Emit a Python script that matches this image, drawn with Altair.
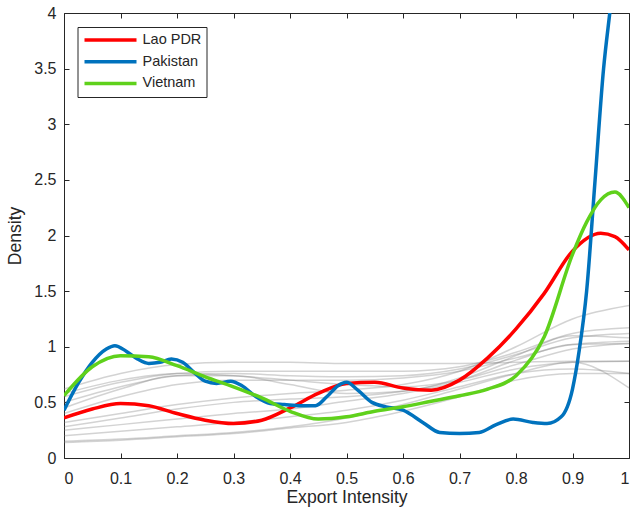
import altair as alt
import pandas as pd

# ---- data ----
grid_x = [0, 0.1, 0.2, 0.3, 0.4, 0.5, 0.6, 0.7, 0.8, 0.9, 1.0]
gray_series = {
    "g1":  [0.62, 0.76, 0.84, 0.86, 0.86, 0.85, 0.85, 0.85, 0.86, 0.87, 0.87],
    "g2":  [0.55, 0.68, 0.76, 0.78, 0.78, 0.78, 0.78, 0.82, 0.95, 1.12, 1.17],
    "g3":  [0.50, 0.64, 0.74, 0.76, 0.74, 0.73, 0.74, 0.80, 0.93, 1.08, 1.12],
    "g4":  [0.45, 0.62, 0.74, 0.74, 0.66, 0.58, 0.60, 0.72, 0.92, 1.10, 1.08],
    "g5":  [0.40, 0.55, 0.66, 0.70, 0.70, 0.70, 0.72, 0.78, 0.90, 1.02, 1.05],
    "g6":  [0.32, 0.40, 0.48, 0.54, 0.58, 0.61, 0.66, 0.78, 1.00, 1.25, 1.37],
    "g7":  [0.28, 0.36, 0.44, 0.50, 0.53, 0.55, 0.60, 0.70, 0.88, 1.02, 1.03],
    "g8":  [0.25, 0.30, 0.35, 0.40, 0.44, 0.51, 0.58, 0.68, 0.80, 0.86, 0.87],
    "g9":  [0.20, 0.24, 0.28, 0.32, 0.37, 0.43, 0.52, 0.64, 0.76, 0.80, 0.76],
    "g10": [0.15, 0.17, 0.20, 0.23, 0.28, 0.36, 0.48, 0.62, 0.76, 0.86, 0.63],
    "g11": [0.14, 0.16, 0.19, 0.22, 0.27, 0.32, 0.42, 0.55, 0.70, 0.76, 0.76],
    "g12": [0.58, 0.70, 0.76, 0.74, 0.70, 0.66, 0.64, 0.70, 0.84, 0.98, 1.03],
}

lao_x = [0, 0.05, 0.1, 0.15, 0.2, 0.25, 0.3, 0.35, 0.4, 0.45, 0.5, 0.55, 0.6,
         0.65, 0.7, 0.75, 0.8, 0.85, 0.9, 0.95, 0.975, 1.0]
lao_y = [0.36, 0.44, 0.49, 0.47, 0.40, 0.34, 0.31, 0.34, 0.45, 0.58, 0.67, 0.68,
         0.63, 0.61, 0.70, 0.90, 1.16, 1.48, 1.86, 2.02, 1.99, 1.87]

vnm_x = [0, 0.05, 0.1, 0.15, 0.2, 0.25, 0.3, 0.35, 0.4, 0.45, 0.5, 0.55, 0.6,
         0.65, 0.7, 0.75, 0.8, 0.85, 0.9, 0.925, 0.95, 0.975, 1.0]
vnm_y = [0.56, 0.82, 0.92, 0.91, 0.83, 0.73, 0.64, 0.54, 0.42, 0.35, 0.37, 0.42,
         0.46, 0.51, 0.56, 0.62, 0.74, 1.09, 1.83, 2.12, 2.32, 2.39, 2.25]

pak_x = [0, 0.025, 0.05, 0.075, 0.09, 0.11, 0.13, 0.15, 0.17, 0.19, 0.21, 0.23,
         0.25, 0.27, 0.295, 0.315, 0.34, 0.365, 0.39, 0.42, 0.445, 0.465, 0.485,
         0.5, 0.52, 0.545, 0.57, 0.6, 0.635, 0.665, 0.7, 0.735, 0.765, 0.795,
         0.83, 0.855, 0.88, 0.9, 0.912, 0.925, 0.94, 0.955, 0.966, 0.98]
pak_y = [0.43, 0.67, 0.86, 0.98, 1.01, 0.96, 0.89, 0.85, 0.86, 0.89, 0.86, 0.77,
         0.69, 0.67, 0.69, 0.65, 0.55, 0.49, 0.48, 0.47, 0.47, 0.55, 0.65,
         0.68, 0.61, 0.50, 0.46, 0.43, 0.32, 0.23, 0.22, 0.23, 0.30, 0.35,
         0.32, 0.31, 0.37, 0.62, 0.97, 1.50, 2.50, 3.50, 4.00, 4.60]

countries = ["Lao PDR", "Pakistan", "Vietnam"]
country_colors = ["#FF0000", "#0072BD", "#5FD11B"]

x_ticks = [0, 0.1, 0.2, 0.3, 0.4, 0.5, 0.6, 0.7, 0.8, 0.9, 1.0]
y_ticks = [0, 0.5, 1, 1.5, 2, 2.5, 3, 3.5, 4]

# ---- tables ----
gray_rows = []
for name, vals in gray_series.items():
    for xv, yv in zip(grid_x, vals):
        gray_rows.append({"series": name, "x": xv, "y": yv})
gray_df = pd.DataFrame(gray_rows)

col_rows = []
for c, xs, ys in [("Lao PDR", lao_x, lao_y), ("Pakistan", pak_x, pak_y), ("Vietnam", vnm_x, vnm_y)]:
    for xv, yv in zip(xs, ys):
        col_rows.append({"country": c, "x": xv, "y": yv})
col_df = pd.DataFrame(col_rows)

W, H = 565, 445
TICK = 5
FONT = "Liberation Sans"
TXT = "#262626"

xscale = alt.Scale(domain=[0, 1], nice=False, zero=False)
yscale = alt.Scale(domain=[0, 4], nice=False)

# grid lines dashed so only a short inward tick shows at each edge (box-style ticks)
x_axis = alt.Axis(
    values=x_ticks, format="~g", domain=False, ticks=False, tickSize=0,
    grid=True, gridColor=TXT, gridOpacity=1, gridWidth=1,
    gridDash=[TICK, H - 2 * TICK, TICK],
    labelFont=FONT, labelFontSize=16, labelColor=TXT, labelPadding=12,
    title="Export Intensity", titleFont=FONT, titleFontSize=17.6,
    titleFontWeight="normal", titleColor=TXT, titlePadding=2,
)
y_axis = alt.Axis(
    values=y_ticks, format="~g", domain=False, ticks=False, tickSize=0,
    grid=True, gridColor=TXT, gridOpacity=1, gridWidth=1,
    gridDash=[TICK, W - 2 * TICK, TICK],
    labelFont=FONT, labelFontSize=16, labelColor=TXT, labelPadding=8,
    title="Density", titleFont=FONT, titleFontSize=17.6,
    titleFontWeight="normal", titleColor=TXT, titlePadding=9,
)

gray = alt.Chart(gray_df).mark_line(
    color="#7a7a7a", opacity=0.33, strokeWidth=1.5, interpolate="monotone"
).encode(
    x=alt.X("x:Q", scale=xscale, axis=x_axis),
    y=alt.Y("y:Q", scale=yscale, axis=y_axis),
    detail="series:N",
)

colored = alt.Chart(col_df).mark_line(
    strokeWidth=3.5, interpolate="monotone", clip=True
).encode(
    x=alt.X("x:Q", scale=xscale),
    y=alt.Y("y:Q", scale=yscale),
    color=alt.Color("country:N",
                    scale=alt.Scale(domain=countries, range=country_colors),
                    legend=alt.Legend(
                        orient="none", legendX=13.5, legendY=14, title=None,
                        symbolType="stroke", symbolSize=2704, symbolStrokeWidth=3.5,
                        clipHeight=16,
                        labelFont=FONT, labelFontSize=14.5, labelColor=TXT,
                        labelOffset=4, rowPadding=5.7, padding=5,
                        strokeColor=TXT, fillColor="white")),
    order=alt.Order("x:Q"),
)

chart = alt.layer(gray, colored).properties(
    width=W, height=H,
    autosize=alt.AutoSizeParams(type="none"),
    padding={"left": 64, "top": 13, "right": 4, "bottom": 54},
    background="white",
).configure_view(stroke=TXT, strokeWidth=1)

chart.save("out.html", embed_options={"renderer": "svg", "actions": False})
